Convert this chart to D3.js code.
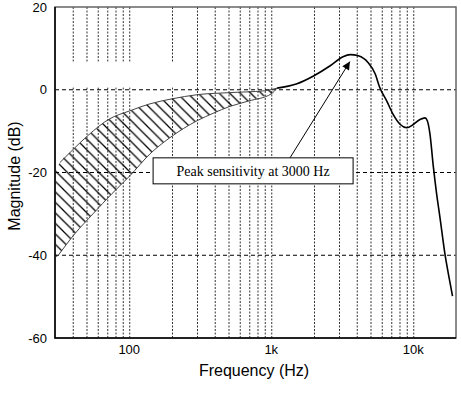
<!DOCTYPE html>
<html>
<head>
<meta charset="utf-8">
<script src="https://cdn.jsdelivr.net/npm/d3@7"></script>
<style>
  body { margin: 0; background: #fff; }
  svg { display: block; font-family: "Liberation Sans", Arial, sans-serif; }
</style>
</head>
<body>
<div id="chart"></div>
<script>
// data (frequency in Hz, magnitude in dB)
var upperFreq = [30, 32.5, 39.5, 51, 73, 101, 140, 200, 300, 504, 900, 1100];
var upperDb   = [-19.5, -17.6, -14.7, -11.1, -7.0, -5.1, -3.4, -2.2, -1.2, -0.7, -0.24, 0.4];
var lowerFreq = [30, 31.5, 41.4, 55.5, 75.6, 101, 140, 193, 300, 395, 504, 697, 1000, 1100];
var lowerDb   = [-40.5, -40.1, -34.8, -30, -25.1, -20.8, -15.5, -11.6, -7.5, -5.6, -4.1, -2.7, -1.0, 0.4];
var respFreq  = [1100, 1500, 2000, 2600, 3200, 3600, 4100, 4800, 5400, 5800, 6500, 7200, 8100, 9000, 10000, 11150, 12100, 12560, 13100, 13850, 14600, 15400, 16700, 17700, 18900];
var respDb    = [0.4, 1.4, 3.4, 5.8, 8.0, 8.5, 8.2, 6.6, 3.8, 0.6, -2.7, -5.9, -8.4, -9.2, -8.4, -7.2, -6.8, -7.5, -10.6, -18.6, -25.1, -30.7, -39.6, -44.6, -49.9];

var yTicks = [20, 0, -20, -40, -60];
var xLabels = [100, 1000, 10000];
var xLabelText = ["100", "1k", "10k"];
var noteText = "Peak sensitivity at 3000 Hz";

// set the dimensions and margins of the graph
var width = 461, height = 395;
var margin = {top: 7, right: 5, bottom: 57, left: 55};

var x = d3.scaleLog()
    .domain([30, 20000])
    .range([margin.left, width - margin.right]);

var y = d3.scaleLinear()
    .domain([-60, 20])
    .range([height - margin.bottom, margin.top]);

var svg = d3.select("#chart")
  .append("svg")
    .attr("width", width)
    .attr("height", height);

var plotH = y(-60) - y(20);

// vertical dotted grid
var gridF = x.ticks().filter(function(d) { return d > 30 && d < 20000; });
svg.append("g")
    .attr("transform", "translate(0," + y(-60) + ")")
    .call(d3.axisBottom(x).tickValues(gridF).tickSize(-plotH).tickFormat(""))
    .call(function(g) {
      g.select(".domain").remove();
      g.selectAll("line")
        .attr("stroke", "#333")
        .attr("stroke-dasharray", "2,1.5");
    });

// blank patch over the grid in the upper left
svg.append("rect")
    .attr("x", x(30) + 1)
    .attr("y", y(6.5))
    .attr("width", x(250) - x(30) - 1)
    .attr("height", y(0.6) - y(6.5))
    .attr("fill", "#fff");

// horizontal dashed grid
svg.append("g")
  .selectAll("line")
  .data([0, -20, -40])
  .enter().append("line")
    .attr("x1", x(30))
    .attr("x2", x(20000))
    .attr("y1", function(d) { return y(d); })
    .attr("y2", function(d) { return y(d); })
    .attr("stroke", "#000")
    .attr("stroke-dasharray", "4,3");

// hatched band
var defs = svg.append("defs");
var pat = defs.append("pattern")
    .attr("id", "hatch")
    .attr("patternUnits", "userSpaceOnUse")
    .attr("width", 10.5)
    .attr("height", 10.5);
pat.append("path")
    .attr("d", "M0,0L10.5,10.5M-1,9.5L1,11.5M9.5,-1L11.5,1")
    .attr("stroke", "#000")
    .attr("stroke-width", 1.25);

var upper = upperFreq.map(function(f, i) { return [f, upperDb[i]]; });
var lower = lowerFreq.map(function(f, i) { return [f, lowerDb[i]]; });
var resp = respFreq.map(function(f, i) { return [f, respDb[i]]; });

var area = d3.area()
    .x(function(d) { return x(d[0]); })
    .y0(function(d) { return y(d[2]); })
    .y1(function(d) { return y(d[1]); })
    .curve(d3.curveMonotoneX);

// resample both bounds on common frequencies for the fill
var bandF = upperFreq.concat(lowerFreq).sort(d3.ascending);
function interp(pts, f) {
  var lf = Math.log(f);
  for (var i = 1; i < pts.length; i++) {
    if (f <= pts[i][0]) {
      var a = Math.log(pts[i - 1][0]), b = Math.log(pts[i][0]);
      var t = (lf - a) / (b - a);
      return pts[i - 1][1] + t * (pts[i][1] - pts[i - 1][1]);
    }
  }
  return pts[pts.length - 1][1];
}
var band = bandF.map(function(f) { return [f, interp(upper, f), interp(lower, f)]; });

svg.append("path")
    .datum(band)
    .attr("d", area)
    .attr("fill", "url(#hatch)");

var line = d3.line()
    .x(function(d) { return x(d[0]); })
    .y(function(d) { return y(d[1]); })
    .curve(d3.curveMonotoneX);

svg.append("path")
    .datum(upper.slice(1))
    .attr("d", line)
    .attr("fill", "none")
    .attr("stroke", "#444")
    .attr("stroke-width", 1);

svg.append("path")
    .datum(lower.slice(1))
    .attr("d", line)
    .attr("fill", "none")
    .attr("stroke", "#444")
    .attr("stroke-width", 1);

// response curve
svg.append("path")
    .datum(resp)
    .attr("d", line)
    .attr("fill", "none")
    .attr("stroke", "#000")
    .attr("stroke-width", 1.6);

// frame
svg.append("rect")
    .attr("x", x(30))
    .attr("y", y(20))
    .attr("width", x(20000) - x(30))
    .attr("height", plotH)
    .attr("fill", "none")
    .attr("stroke", "#666")
    .attr("stroke-width", 1.5);
svg.append("path")
    .attr("d", "M" + x(30) + "," + y(20) + "V" + y(-60) + "H" + x(20000))
    .attr("fill", "none")
    .attr("stroke", "#000")
    .attr("stroke-width", 1.5);

// y tick labels
svg.append("g")
  .selectAll("text")
  .data(yTicks)
  .enter().append("text")
    .attr("x", margin.left - 8)
    .attr("y", function(d) { return y(d); })
    .attr("dy", "0.35em")
    .attr("text-anchor", "end")
    .attr("font-size", 13)
    .text(function(d) { return d; });

// x tick labels
svg.append("g")
  .selectAll("text")
  .data(xLabels)
  .enter().append("text")
    .attr("x", function(d) { return x(d); })
    .attr("y", y(-60) + 16)
    .attr("text-anchor", "middle")
    .attr("font-size", 13)
    .text(function(d, i) { return xLabelText[i]; });

// axis titles
svg.append("text")
    .attr("x", 254)
    .attr("y", 376)
    .attr("text-anchor", "middle")
    .attr("font-size", 16)
    .text("Frequency (Hz)");

svg.append("text")
    .attr("transform", "translate(20," + 176 + ") rotate(-90)")
    .attr("text-anchor", "middle")
    .attr("font-size", 16)
    .text("Magnitude (dB)");

// annotation
defs.append("marker")
    .attr("id", "arrow")
    .attr("viewBox", "0 0 10 10")
    .attr("refX", 10)
    .attr("refY", 5)
    .attr("markerWidth", 10)
    .attr("markerHeight", 8)
    .attr("markerUnits", "userSpaceOnUse")
    .attr("orient", "auto")
  .append("path")
    .attr("d", "M0,0L10,5L0,10Z")
    .attr("fill", "#000");

var boxCx = x(745), boxCy = y(-19.6), boxW = 200, boxH = 26;

svg.append("line")
    .attr("x1", x(1355))
    .attr("y1", boxCy - boxH / 2)
    .attr("x2", x(3580))
    .attr("y2", y(6.8))
    .attr("stroke", "#000")
    .attr("stroke-width", 1)
    .attr("marker-end", "url(#arrow)");

svg.append("rect")
    .attr("x", boxCx - boxW / 2)
    .attr("y", boxCy - boxH / 2)
    .attr("width", boxW)
    .attr("height", boxH)
    .attr("fill", "#fff")
    .attr("stroke", "#000")
    .attr("stroke-width", 1);

svg.append("text")
    .attr("x", boxCx)
    .attr("y", boxCy + 5)
    .attr("text-anchor", "middle")
    .attr("font-family", "'Liberation Serif', 'Times New Roman', serif")
    .attr("font-size", 14)
    .text(noteText);
</script>
</body>
</html>
